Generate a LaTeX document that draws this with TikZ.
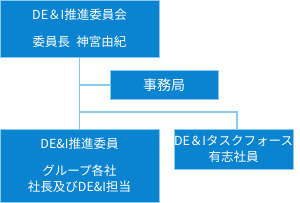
\documentclass[tikz,border=0pt]{standalone}
\usepackage{fontspec}
\setmainfont{Noto Sans CJK JP}
\usetikzlibrary{positioning}
\definecolor{boxblue}{HTML}{0A83D1}
\definecolor{lineblue}{HTML}{8CC9EE}

\begin{document}
\begin{tikzpicture}[
    x=1pt, y=-1pt,
    orgbox/.style={rectangle, draw=lineblue, line width=0.8pt, fill=boxblue, text=white,
        align=center, inner sep=0pt, font=\fontsize{12.5}{16}\selectfont},
    conn/.style={draw=lineblue, line width=1.2pt}
]
    \useasboundingbox (0,0) rectangle (300,202);

    \node[orgbox, minimum width=159pt, minimum height=57.5pt] (council) at (79.5,28.75)
        {DE＆I推進委員会\\[11pt]委員長\enspace 神宮由紀};
    \node[orgbox, minimum width=108pt, minimum height=29pt, font=\fontsize{14}{16}\selectfont]
        (office) at (164,85) {事務局};
    \node[orgbox, minimum width=159pt, minimum height=73pt] (members) at (79.5,165.5)
        {DE\&I推進委員\\[11pt]グループ各社\\社長及びDE\&I担当};
    \node[orgbox, minimum width=119pt, minimum height=40pt] (taskforce) at (233.5,149)
        {DE＆Iタスクフォース\\有志社員};

    \coordinate (split) at (79.5,112);

    \draw[conn] (council.south) -- (members.north);
    \draw[conn] (council.south |- office.west) -- (office.west);
    \draw[conn] (split) -| ([xshift=3.5pt]taskforce.north);
\end{tikzpicture}
\end{document}
